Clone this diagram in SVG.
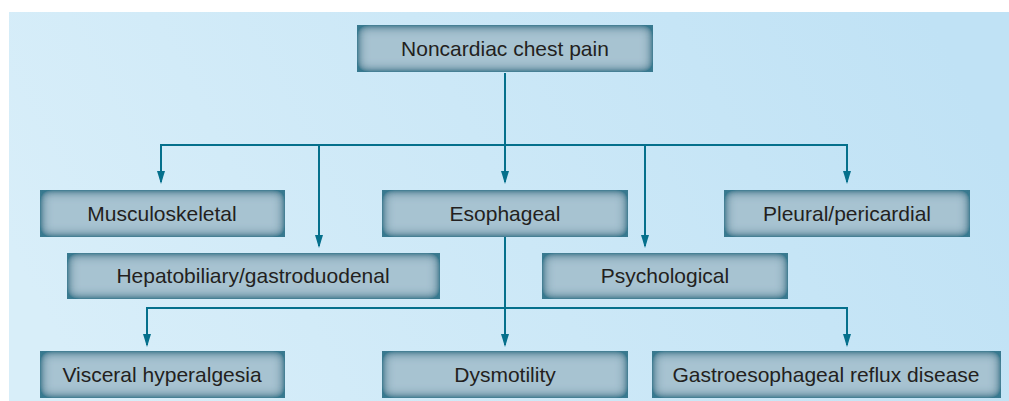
<svg xmlns="http://www.w3.org/2000/svg" width="1009" height="401" viewBox="0 0 1009 401">
<defs>
  <linearGradient id="bg" x1="0" y1="0.6" x2="1" y2="0.4">
    <stop offset="0" stop-color="#d8eef9"/>
    <stop offset="1" stop-color="#c0e2f5"/>
  </linearGradient>
  <filter id="inner" x="-10%" y="-50%" width="120%" height="200%">
    <feFlood flood-color="#39798f" result="c"/>
    <feComposite in="c" in2="SourceAlpha" operator="out" result="outside"/>
    <feGaussianBlur in="outside" stdDeviation="6" result="b"/>
    <feComponentTransfer in="b" result="b2">
      <feFuncA type="linear" slope="2"/>
    </feComponentTransfer>
    <feComposite in="b2" in2="SourceAlpha" operator="in" result="shadow"/>
    <feMerge><feMergeNode in="SourceGraphic"/><feMergeNode in="shadow"/></feMerge>
  </filter>
  <marker id="ah" viewBox="0 0 13 8" refX="11" refY="4" markerWidth="13" markerHeight="8" markerUnits="userSpaceOnUse" orient="auto">
    <path d="M0,0 L13,4 L0,8 Z" fill="#05708c"/>
  </marker>
  <style>
    .box { fill: #a7c3d1; filter: url(#inner); }
    .lbl { font-family: "Liberation Sans", Arial, sans-serif; font-size: 21px; fill: #231f20; text-anchor: middle; }
    .ln { stroke: #05708c; stroke-width: 2; fill: none; }
    .ar { stroke: #05708c; stroke-width: 2; fill: none; marker-end: url(#ah); }
  </style>
</defs>
<rect x="0" y="0" width="1009" height="401" fill="#ffffff"/>
<rect x="9" y="12" width="1000" height="389" fill="url(#bg)"/>

<g id="connectors">
  <path class="ln" d="M505,73 V145"/>
  <path class="ln" d="M160,145 H848"/>
  <path class="ar" d="M161,145 V182"/>
  <path class="ar" d="M319,145 V246"/>
  <path class="ar" d="M505,145 V182"/>
  <path class="ar" d="M645,145 V246"/>
  <path class="ar" d="M847,145 V182"/>
  <path class="ln" d="M505,237 V308"/>
  <path class="ln" d="M146,308 H848"/>
  <path class="ar" d="M147,308 V345"/>
  <path class="ar" d="M505,308 V345"/>
  <path class="ar" d="M847,308 V345"/>
</g>

<g id="root">
  <rect class="box" x="357" y="25" width="296" height="47"/>
  <text class="lbl" x="505" y="56">Noncardiac chest pain</text>
</g>
<g id="musculoskeletal">
  <rect class="box" x="40" y="190" width="245" height="47"/>
  <text class="lbl" x="162" y="221">Musculoskeletal</text>
</g>
<g id="esophageal">
  <rect class="box" x="382" y="190" width="246" height="47"/>
  <text class="lbl" x="505" y="221">Esophageal</text>
</g>
<g id="pleural">
  <rect class="box" x="724" y="190" width="246" height="47"/>
  <text class="lbl" x="847" y="221">Pleural/pericardial</text>
</g>
<g id="hepatobiliary">
  <rect class="box" x="67" y="253" width="373" height="46"/>
  <text class="lbl" x="253" y="283">Hepatobiliary/gastroduodenal</text>
</g>
<g id="psychological">
  <rect class="box" x="542" y="253" width="246" height="46"/>
  <text class="lbl" x="665" y="283">Psychological</text>
</g>
<g id="visceral">
  <rect class="box" x="40" y="351" width="245" height="47"/>
  <text class="lbl" x="162" y="382">Visceral hyperalgesia</text>
</g>
<g id="dysmotility">
  <rect class="box" x="382" y="351" width="246" height="47"/>
  <text class="lbl" x="505" y="382">Dysmotility</text>
</g>
<g id="gerd">
  <rect class="box" x="652" y="351" width="349" height="47"/>
  <text class="lbl" x="826" y="382">Gastroesophageal reflux disease</text>
</g>
</svg>
